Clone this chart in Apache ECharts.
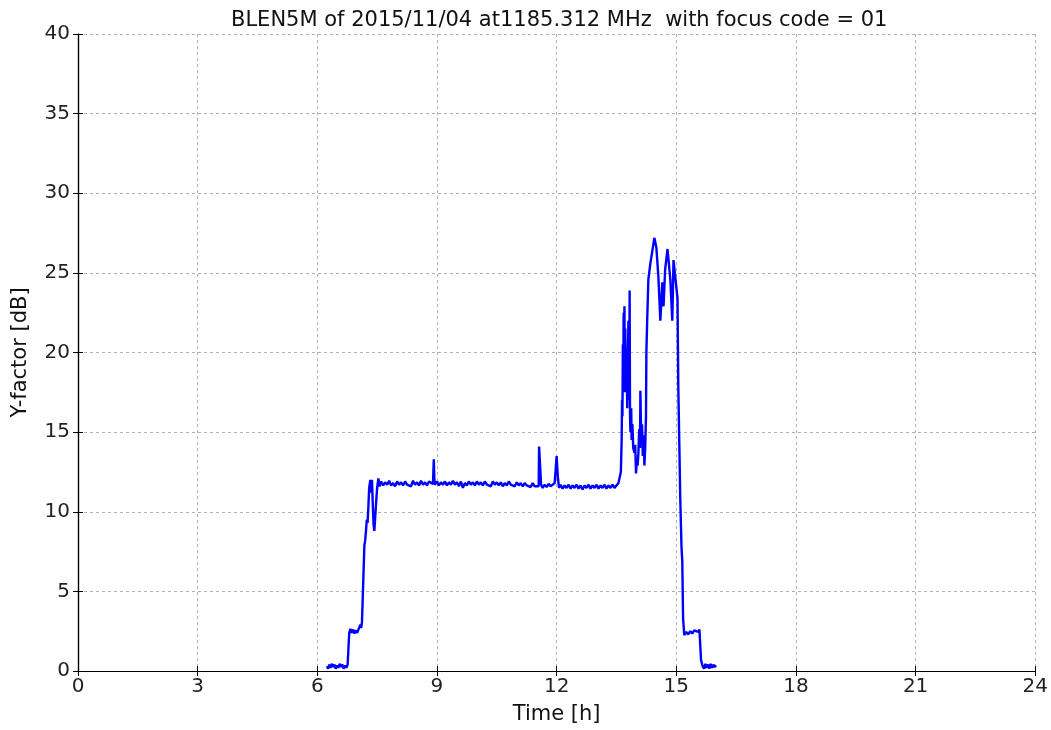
<!DOCTYPE html>
<html>
<head>
<meta charset="utf-8">
<script src="https://cdn.jsdelivr.net/npm/echarts@6/dist/echarts.min.js"></script>
<style>
  html, body { margin: 0; padding: 0; background: #fff; }
  #chart { width: 1051px; height: 730px; }
</style>
</head>
<body>
<div id="chart"></div>
<script>
// values (time in hours, Y-factor in dB)
var rampHours = [6.24, 6.27, 6.3, 6.33, 6.36, 6.4, 6.43, 6.46, 6.5, 6.53, 6.56, 6.6, 6.63, 6.66,
  6.7, 6.73, 6.76, 6.79,
  6.8, 6.83, 6.86, 6.9, 6.93, 6.96, 7.0, 7.03, 7.06, 7.08, 7.1, 7.12, 7.15, 7.18, 7.2, 7.22,
  7.24, 7.26, 7.28, 7.3, 7.33, 7.35, 7.37, 7.39, 7.41, 7.43, 7.45, 7.48, 7.5, 7.53, 7.56];
var rampDb = [0.3, 0.15, 0.4, 0.2, 0.45, 0.25, 0.4, 0.15, 0.35, 0.2, 0.45, 0.25, 0.4, 0.15,
  0.35, 0.2, 0.4, 0.3,
  2.4, 2.65, 2.4, 2.6, 2.35, 2.55, 2.4, 2.6, 2.5, 2.9, 2.7, 3.1, 5.5, 7.9, 8.2, 8.8,
  9.5, 9.3, 10.3, 11.5, 12.0, 11.2, 12.0, 10.5, 9.2, 8.8, 9.6, 10.8, 11.5, 12.1, 11.6];

var plateauHours = [7.6, 7.65, 7.7, 7.75, 7.8, 7.85, 7.9, 7.95, 8.0, 8.05, 8.1, 8.15, 8.2, 8.25,
  8.3, 8.35, 8.4, 8.45, 8.5, 8.55, 8.6, 8.65, 8.7, 8.75, 8.8, 8.85, 8.9, 8.92, 8.94,
  9.0, 9.05, 9.1, 9.15, 9.2, 9.25, 9.3, 9.35, 9.4, 9.45, 9.5, 9.55, 9.6, 9.65, 9.7, 9.75,
  9.8, 9.85, 9.9, 9.95, 10.0, 10.05, 10.1, 10.15, 10.2, 10.25, 10.3, 10.35, 10.4, 10.45,
  10.5, 10.55, 10.6, 10.65, 10.7, 10.75, 10.8, 10.85, 10.9, 10.95, 11.0, 11.05, 11.1, 11.15,
  11.2, 11.25, 11.3, 11.35, 11.4, 11.45, 11.5, 11.55, 11.56, 11.6, 11.61, 11.65, 11.7, 11.75,
  11.8, 11.85, 11.9, 11.95, 12.0, 12.03, 12.06, 12.1, 12.15, 12.2, 12.25, 12.3, 12.35, 12.4,
  12.45, 12.5, 12.55, 12.6, 12.65, 12.7, 12.75, 12.8, 12.85, 12.9, 12.95, 13.0, 13.05, 13.1,
  13.15, 13.2, 13.25, 13.3, 13.35, 13.4, 13.45, 13.5, 13.55];
var plateauDb = [11.9, 11.65, 11.85, 11.7, 11.95, 11.65, 11.8, 11.6, 11.9, 11.7, 11.85, 11.65, 11.9, 11.7,
  11.8, 11.6, 11.95, 11.7, 11.85, 11.65, 11.95, 11.7, 11.85, 11.65, 11.9, 12.0, 11.75, 13.3, 11.7,
  11.9, 11.65, 11.85, 11.7, 11.9, 11.65, 11.85, 11.7, 11.95, 11.7, 11.85, 11.6, 11.9, 11.5, 11.8, 11.65,
  11.9, 11.7, 11.85, 11.65, 11.9, 11.7, 11.85, 11.65, 11.9, 11.7, 11.8, 11.6, 11.9, 11.7,
  11.85, 11.65, 11.85, 11.6, 11.8, 11.65, 11.9, 11.7, 11.8, 11.6, 11.85, 11.65, 11.8, 11.6,
  11.8, 11.65, 11.75, 11.55, 11.8, 11.6, 11.7, 11.6, 14.1, 14.1, 11.7, 11.5, 11.7, 11.55,
  11.75, 11.6, 11.7, 11.8, 13.5, 12.2, 11.5, 11.7, 11.45, 11.65, 11.5, 11.7, 11.45, 11.65,
  11.5, 11.7, 11.45, 11.65, 11.4, 11.65, 11.5, 11.7, 11.45, 11.65, 11.5, 11.7, 11.45, 11.65,
  11.5, 11.7, 11.45, 11.65, 11.5, 11.7, 11.5, 11.6, 11.8];

var peakHours = [13.58, 13.61, 13.63, 13.64, 13.65, 13.66, 13.67, 13.68, 13.69, 13.7, 13.71,
  13.72, 13.74, 13.75, 13.77, 13.78, 13.8, 13.82, 13.83, 13.84, 13.85, 13.87, 13.88, 13.9,
  13.92, 13.95, 13.97, 13.99, 14.01, 14.03, 14.05, 14.07, 14.09, 14.1, 14.12, 14.14, 14.16,
  14.18, 14.2, 14.22, 14.24, 14.25, 14.27, 14.3, 14.35, 14.4, 14.45, 14.5, 14.55, 14.6,
  14.65, 14.68, 14.72, 14.78, 14.85, 14.9, 14.93, 14.98, 15.03, 15.05, 15.1, 15.13, 15.15, 15.17];
var peakDb = [11.9, 12.5, 14.5, 17.0, 16.0, 20.5, 18.0, 22.5, 19.5, 22.9, 17.5,
  21.5, 18.5, 20.0, 16.5, 18.3, 22.0, 17.0, 23.9, 16.0, 15.0, 16.5, 14.5, 15.5,
  14.0, 13.7, 14.2, 12.4, 13.2, 12.9, 13.7, 15.2, 14.0, 17.6, 14.5, 15.5, 13.5,
  14.8, 12.9, 14.0, 16.0, 20.0, 22.0, 24.6, 25.6, 26.4, 27.2, 26.6, 24.8, 22.0,
  24.4, 22.9, 25.2, 26.5, 24.6, 22.0, 25.8, 24.6, 23.4, 17.9, 10.8, 7.8, 6.9, 3.3];

var tailHours = [15.2, 15.25, 15.3, 15.35, 15.4, 15.45, 15.5, 15.55, 15.58, 15.62, 15.66,
  15.7, 15.73, 15.76, 15.8, 15.83, 15.86, 15.9, 15.93, 15.96, 16.0];
var tailDb = [2.25, 2.45, 2.3, 2.5, 2.35, 2.55, 2.6, 2.45, 2.6, 0.7, 0.3,
  0.15, 0.45, 0.2, 0.4, 0.15, 0.45, 0.2, 0.4, 0.25, 0.35];

var xTicks = [0, 3, 6, 9, 12, 15, 18, 21, 24];
var yTicks = [0, 5, 10, 15, 20, 25, 30, 35, 40];

var hours = rampHours.concat(plateauHours, peakHours, tailHours);
var yDb = rampDb.concat(plateauDb, peakDb, tailDb);
var points = hours.map(function (h, i) { return [h, yDb[i]]; });

var font = "DejaVu Sans";
var grid = { type: [3, 3], color: "#b0b0b0", width: 1 };

var option = {
  animation: false,
  title: {
    text: "BLEN5M of 2015/11/04 at1185.312 MHz  with focus code = 01",
    left: 226,
    top: 5,
    textStyle: { fontFamily: font, fontSize: 21, fontWeight: "normal", color: "#111" }
  },
  grid: { left: 78, top: 34, right: 15, bottom: 57 },
  xAxis: [
    {
      type: "value",
      min: xTicks[0],
      max: xTicks[xTicks.length - 1],
      interval: 3,
      name: "Time [h]",
      nameLocation: "middle",
      nameGap: 33,
      nameTextStyle: { fontFamily: font, fontSize: 21, color: "#111" },
      axisLine: { lineStyle: { color: "#000", width: 1.2 } },
      axisTick: { inside: true, length: 5, lineStyle: { color: "#000" } },
      axisLabel: { fontFamily: font, fontSize: 20, color: "#222", margin: 6 },
      splitLine: { show: true, lineStyle: grid }
    },
    {
      type: "value",
      position: "top",
      min: 0, max: 24, interval: 3,
      axisLine: { show: true, lineStyle: { color: "#000", width: 1.2 } },
      axisTick: { inside: true, length: 5, lineStyle: { color: "#000" } },
      axisLabel: { show: false },
      splitLine: { show: false }
    }
  ],
  yAxis: [
    {
      type: "value",
      min: yTicks[0],
      max: yTicks[yTicks.length - 1],
      interval: 5,
      name: "Y-factor [dB]",
      nameLocation: "middle",
      nameGap: 47,
      nameTextStyle: { fontFamily: font, fontSize: 21, color: "#111" },
      axisLine: { show: true, lineStyle: { color: "#000", width: 1.2 } },
      axisTick: { show: true, inside: true, length: 5, lineStyle: { color: "#000" } },
      axisLabel: { fontFamily: font, fontSize: 20, color: "#222", margin: 8 },
      splitLine: { show: true, lineStyle: grid }
    },
    {
      type: "value",
      position: "right",
      min: 0, max: 40, interval: 5,
      axisLine: { show: true, lineStyle: { color: "#000", width: 1.2 } },
      axisTick: { show: true, inside: true, length: 5, lineStyle: { color: "#000" } },
      axisLabel: { show: false },
      splitLine: { show: false }
    }
  ],
  series: [
    {
      type: "line",
      data: points,
      showSymbol: false,
      lineStyle: { color: "#0000ff", width: 2.4 },
      itemStyle: { color: "#0000ff" }
    }
  ]
};

var myChart = echarts.init(document.getElementById("chart"));
myChart.setOption(option);
</script>
</body>
</html>
